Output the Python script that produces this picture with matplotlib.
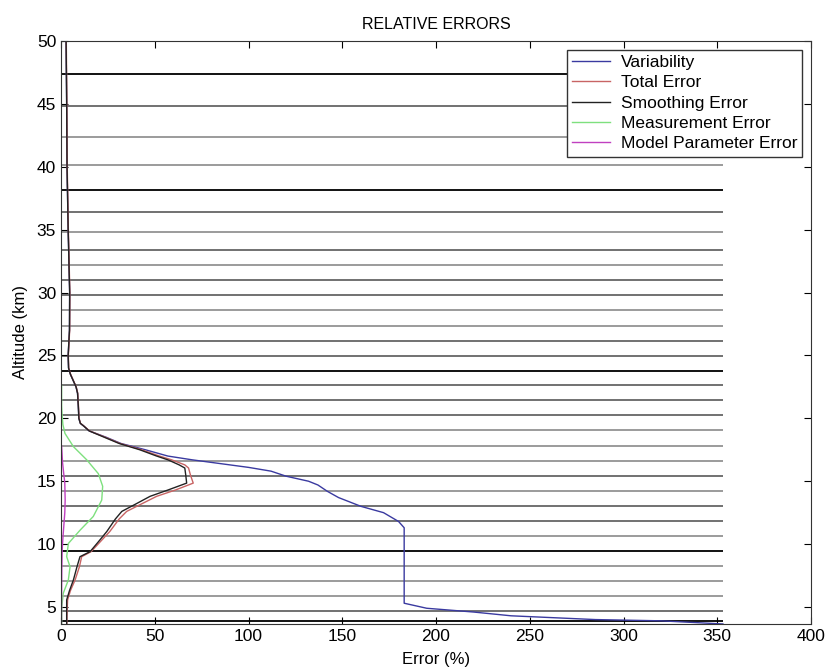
import matplotlib
matplotlib.use("Agg")
import matplotlib.pyplot as plt

plt.rcParams['font.family'] = ['Liberation Sans', 'DejaVu Sans']

# retrieval grid levels (km)
grid_levels = [47.38, 44.83, 42.37, 40.14, 38.16, 36.38, 34.79, 33.39, 32.19,
               31.03, 29.79, 28.59, 27.37, 26.18, 24.98, 23.79, 22.63, 21.44,
               20.27, 19.05, 17.83, 16.61, 15.42, 14.23, 13.04, 11.82, 10.63,
               9.46, 8.29, 7.08, 5.86, 4.67, 3.90]
dark_levels = [47.38, 38.16, 23.79, 9.46, 3.90]
mid_levels = [44.83, 36.38, 33.39, 31.03, 29.79, 26.18, 24.98, 22.63, 21.44,
              20.27, 15.42, 13.04, 11.82, 4.67]

# variability profile
alt_var = [50, 45, 40, 35, 30, 27, 25, 24, 23.5, 23, 22.5, 22, 21, 20, 19.6,
           19.4, 19, 18.5, 18, 17.5, 17, 16.7, 16.4, 16.1, 15.8, 15.4, 15.0,
           14.7, 14.2, 13.7, 13.0, 12.5, 11.8, 11.3, 10, 8, 6, 5.3, 4.9, 4.6,
           4.3, 4.0, 3.9, 3.65]
variability = [2.7, 3.0, 3.2, 3.8, 4.6, 4.5, 3.8, 4.0, 5, 6.5, 8, 8.8, 9.2,
               9.5, 10.3, 12, 15, 24, 32, 45, 57, 70, 85, 100, 112, 120, 132,
               137, 142, 148, 160, 172, 180, 183, 183, 183, 183, 183, 195, 220,
               240, 285, 320, 353]

# smoothing and total error
alt_err = [50, 45, 40, 35, 30, 27, 25, 24, 23.5, 23, 22.5, 22, 21, 20, 19.6,
           19.4, 19, 18.5, 18, 17.5, 17, 16.7, 16.3, 16.05, 15.5, 14.85, 14.3,
           13.8, 13.2, 12.6, 12.0, 11.0, 10.2, 9.4, 9.0, 8.2, 7.15, 6.3, 5.56,
           4.5, 3.65]
smoothing_err = [2.7, 3.0, 3.2, 3.8, 4.6, 4.5, 3.8, 4.0, 5, 6.5, 8, 8.8, 9.2,
                 9.5, 10.3, 12, 15, 23, 31, 42, 51, 57, 63, 66, 66.5, 67, 57,
                 47.5, 40, 32.4, 29, 24.4, 20, 15.5, 10.1, 8.5, 6.6, 4.5, 3.0,
                 3.0, 3.0]
total_err = [2.8, 3.1, 3.3, 3.9, 4.7, 4.6, 3.9, 4.1, 5.1, 6.6, 8.1, 8.9, 9.3,
             9.6, 10.4, 12.1, 15.2, 23.5, 31.5, 43, 52.5, 59, 66, 68, 69, 70.5,
             61, 51, 43, 35, 31, 26, 21, 16, 11, 9.8, 7.5, 5, 3.5, 3.2, 3.1]

# measurement error
alt_meas = [22.6, 21, 20.4, 19.5, 18.8, 17.75, 16.7, 15.6, 14.6, 13.5, 12.2,
            11.1, 10.05, 9.0, 8.2, 7.15, 6.1, 5.0, 3.65]
meas_err = [0.3, 0.3, 0.5, 1.0, 2.1, 6.6, 13.7, 19.9, 22.2, 21.7, 17.2, 10.1,
            3.9, 3.0, 4.8, 3.9, 1.2, 0.4, 0.3]

# model parameter error
alt_model = [17.8, 16.5, 15.5, 14.9, 13.5, 12.5, 11.5, 10.5, 9.5, 8, 6, 3.65]
model_err = [0.3, 0.8, 1.5, 2.0, 2.2, 2.0, 1.5, 1.0, 0.6, 0.4, 0.3, 0.2]

fig = plt.figure(figsize=(8.26, 6.69), dpi=100)
ax = fig.add_axes([0.0739, 0.0673, 0.908, 0.8714])

xmax = max(variability)
for lev in grid_levels:
    if lev in dark_levels:
        ax.hlines(lev, 0, xmax, colors='#111111', lw=1.4, zorder=1)
    elif lev in mid_levels:
        ax.hlines(lev, 0, xmax, colors='#4a4a4a', lw=1.1, zorder=1)
    else:
        ax.hlines(lev, 0, xmax, colors='#808080', lw=1.1, zorder=1)

ax.plot(variability, alt_var, color='#3a3aa0', lw=1.0, label='Variability')
ax.plot(total_err, alt_err, color='#c86464', lw=1.0, label='Total Error')
ax.plot(smoothing_err, alt_err, color='#222222', lw=1.0, label='Smoothing Error')
ax.plot(meas_err, alt_meas, color='#7ee07e', lw=1.0, label='Measurement Error')
ax.plot(model_err, alt_model, color='#c040c0', lw=1.0, label='Model Parameter Error')

ax.set_xlim(0, 400)
ax.set_ylim(3.65, 50)
ax.set_xticks(range(0, 401, 50))
ax.set_yticks(range(5, 51, 5))
ax.tick_params(direction='in', top=True, right=True, length=5, labelsize=12.5)
for s in ax.spines.values():
    s.set_color('#333333')

ax.set_title('RELATIVE ERRORS', fontsize=11.5, pad=9)
ax.set_xlabel('Error (%)', fontsize=12, labelpad=6)
ax.set_ylabel('Altitude (km)', fontsize=12, labelpad=6)

leg = ax.legend(loc='upper right', fontsize=12.5, fancybox=False, framealpha=1,
                edgecolor='#333333', handlelength=2.2, labelspacing=0.3,
                borderaxespad=0.5, borderpad=0.3, handletextpad=0.6)
leg.get_frame().set_linewidth(1.0)

fig.savefig('out.png', dpi=100)
